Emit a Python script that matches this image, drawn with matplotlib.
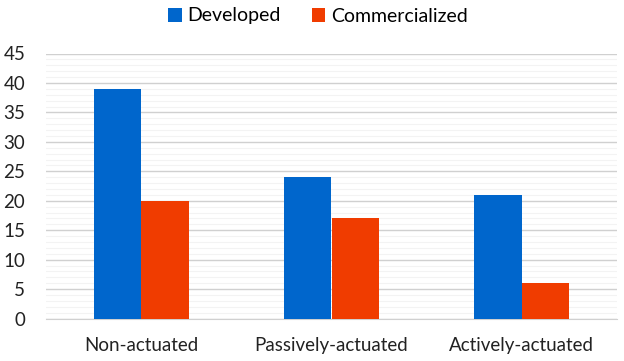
import matplotlib.pyplot as plt
import numpy as np

categories = ["Non-actuated", "Passively-actuated", "Actively-actuated"]
developed = [39, 24, 21]
commercialized = [20, 17, 6]
series_names = ["Developed", "Commercialized"]

plt.rcParams['font.family'] = ['Lato', 'DejaVu Sans']

fig = plt.figure(figsize=(6.24, 3.61), dpi=100)
ax = fig.add_axes([46 / 624, 1 - 318.5 / 361, 571 / 624, 265 / 361])

x = np.arange(len(categories))
w = 0.25
ax.bar(x - w / 2, developed, w, color='#0066cc', label=series_names[0], zorder=3)
ax.bar(x + w / 2, commercialized, w, color='#f03c00', label=series_names[1], zorder=3)

ax.set_xlim(-0.5, len(categories) - 0.5)
ax.set_ylim(0, 45)
ax.set_yticks(range(0, 46, 5))
ax.set_yticks(range(0, 46, 1), minor=True)
ax.set_xticks(x)
ax.set_xticklabels(categories)

ax.grid(axis='y', which='major', color='#d0d0d0', linewidth=1, zorder=0)
ax.grid(axis='y', which='minor', color='#f3f3f3', linewidth=0.8, zorder=0)
ax.grid(axis='x', visible=False)
for s in ['top', 'right', 'left']:
    ax.spines[s].set_visible(False)
ax.spines['bottom'].set_color('#d0d0d0')
ax.tick_params(axis='both', which='both', length=0, labelsize=13.5, colors='#222222')
ax.tick_params(axis='y', pad=15)
ax.tick_params(axis='x', pad=13)

fig.legend(loc='center', bbox_to_anchor=(318 / 624, 1 - 16 / 361), ncol=2, frameon=False,
           fontsize=14, handlelength=0.7, handleheight=0.7, handletextpad=0.3,
           columnspacing=1.6)

fig.savefig('out.png', dpi=100)
